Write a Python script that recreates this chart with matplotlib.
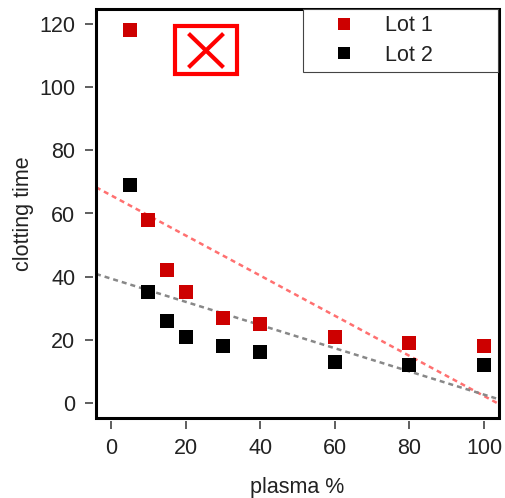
import numpy as np
import matplotlib
matplotlib.use("Agg")
import matplotlib.pyplot as plt
from matplotlib.patches import Rectangle
from matplotlib.lines import Line2D

# Clotting time of blood vs. plasma concentration, two lots of thromboplastin
plasma = [5, 10, 15, 20, 30, 40, 60, 80, 100]
lot1 = [118, 58, 42, 35, 27, 25, 21, 19, 18]
lot2 = [69, 35, 26, 21, 18, 16, 13, 12, 12]
series_names = ["Lot 1", "Lot 2"]
x_ticks = [0, 20, 40, 60, 80, 100]
y_ticks = [0, 20, 40, 60, 80, 100, 120]

plt.rcParams["font.family"] = ["Liberation Sans", "DejaVu Sans"]
TXT = "#222222"
FS = 15.5

W, H = 506, 498
fig = plt.figure(figsize=(W / 100, H / 100), dpi=100)
ax = fig.add_axes([96 / W, 1 - 418 / H, (499 - 96) / W, (418 - 9) / H])

red = "#CD0000"
ax.plot(plasma, lot1, "s", color=red, ms=10, mew=0, label=series_names[0], zorder=3)
ax.plot(plasma, lot2, "s", color="black", ms=10, mew=0, label=series_names[1], zorder=3)

# least-squares straight lines for each lot
for y, c in ((lot1, "#FF7070"), (lot2, "#888888")):
    b, a = np.polyfit(plasma, y, 1)
    ax.axline((0, a), slope=b, color=c, lw=1.8, dashes=(2.0, 1.6), zorder=2)

ax.set_xlim(-4, 104)
ax.set_ylim(-4.8, 124.8)
ax.set_xticks(x_ticks)
ax.set_yticks(y_ticks)

for side in ("left", "bottom"):
    ax.spines[side].set_position(("outward", 2))
    ax.spines[side].set_color("none")
for side in ("right", "top"):
    ax.spines[side].set_visible(False)
ax.add_patch(Rectangle((0, 0), 1, 1, transform=ax.transAxes, fill=False,
                       lw=2.2, ec="black", clip_on=False, zorder=5))

ax.tick_params(direction="out", length=5.8, width=1.1, color="#333333",
               labelsize=FS, labelcolor=TXT)
ax.tick_params(axis="x", pad=6.5)
ax.tick_params(axis="y", pad=7)

ax.set_xlabel("plasma %", fontsize=FS, color=TXT)
ax.set_ylabel("clotting time", fontsize=FS, color=TXT, va="center")
ax.xaxis.set_label_coords(0.5, -0.145)
ax.yaxis.set_label_coords(-0.18, 0.5)

leg = ax.legend(loc="upper left", bbox_to_anchor=((303 - 96) / 403, 0, 195 / 403, 1.0),
                mode="expand", borderaxespad=0, fancybox=False, framealpha=1,
                edgecolor="#444444", fontsize=FS, markerscale=0.85,
                borderpad=0.3, labelspacing=0.38, handlelength=3.2, handletextpad=0.3)
leg.get_frame().set_linewidth(0.8)
for t in leg.get_texts():
    t.set_color(TXT)

# red boxed cross in the upper area
fig.add_artist(Rectangle((175 / W, 1 - 74 / H), 62 / W, 48 / H, transform=fig.transFigure,
                         fill=False, ec="#FF0000", lw=3.0))
fig.add_artist(Line2D([190 / W, 222 / W], [1 - 35 / H, 1 - 66 / H], transform=fig.transFigure,
                      color="#FF0000", lw=3.0))
fig.add_artist(Line2D([190 / W, 222 / W], [1 - 66 / H, 1 - 35 / H], transform=fig.transFigure,
                      color="#FF0000", lw=3.0))

fig.savefig("out.png", dpi=100)
